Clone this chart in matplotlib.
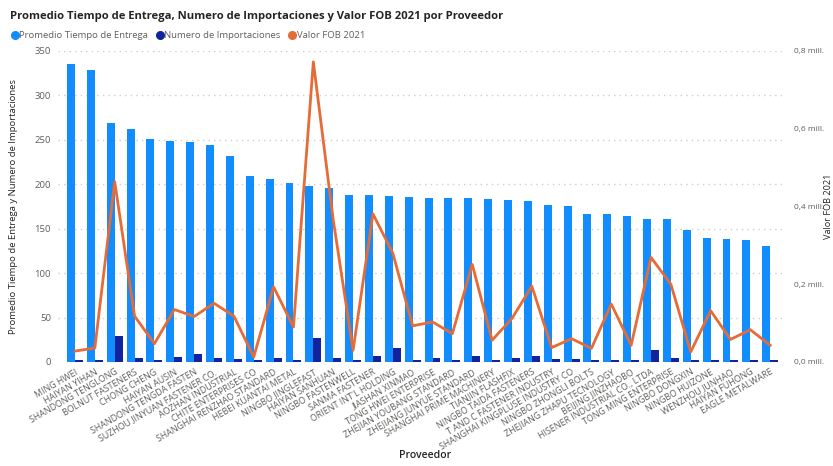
import matplotlib.pyplot as plt
import numpy as np

# datos
proveedores = ["MING HWEI", "HAIYAN YIHAN", "SHANDONG TENGLONG", "BOLNUT FASTENERS",
               "CHONG CHENG", "HAIYAN AUSIN", "SHANDONG TENGDA FASTEN",
               "SUZHOU JINYUAN FASTENER CO.", "AOZHAN INDUSTRIAL", "CHITE ENTERPRISES CO",
               "SHANGHAI RENZHAO STANDARD", "HEBEI KUANTAI METAL", "NINGBO JINGLEFAST",
               "HAIYAN SANHUAN", "NINGBO FASTENWELL", "SANMA FASTENER",
               "ORIENT INT'L HOLDING", "JIASHAN XINMAO", "TONG HWEI ENTERPRISE",
               "ZHEJIAN YOUBANG STANDARD", "ZHEJIANG JUNYUE STANDARD",
               "SHANGHAI PRIME MACHINERY", "TIANJIN FLASHFIX", "NINGBO TAIDA FASTENERS",
               "T AND C FASTENER INDUSTRY", "SHANGHAI KINGPLUSE INDUSTRY CO",
               "NINGBO ZHONGLI BOLTS", "ZHEJIANG ZHAPU TECNOLOGY", "BEIJING JINZHAOBO",
               "HISENER INDUSTRIAL CO., LTDA", "TONG MING ENTERPRISE", "NINGBO DONGXIN",
               "NINGBO HUIZONE", "WENZHOU JUNHAO", "HAIYAN FUHONG", "EAGLE METALWARE"]

tiempo_entrega = [335, 329, 269, 262, 251, 249, 248, 244, 232, 209, 206, 201, 198, 196,
                  188, 188, 187, 186, 185, 185, 185, 183, 182, 181, 177, 176, 167, 166,
                  164, 161, 161, 148, 140, 138, 137, 130]

num_importaciones = [2, 2, 29, 4, 2, 5.5, 8.5, 4, 3, 2, 5, 2, 26.5, 4, 2, 7, 16, 2.5,
                     5, 2, 6.5, 2.5, 5, 6.5, 3.5, 3.5, 2, 2.5, 2, 13, 5, 2, 2.5, 2, 2, 2]

valor_fob = [0.028, 0.036, 0.464, 0.118, 0.047, 0.135, 0.117, 0.151, 0.118, 0.013,
             0.193, 0.090, 0.772, 0.366, 0.030, 0.381, 0.280, 0.093, 0.103, 0.073,
             0.251, 0.056, 0.112, 0.195, 0.037, 0.060, 0.035, 0.149, 0.043, 0.269,
             0.200, 0.026, 0.132, 0.058, 0.083, 0.043]

plt.rcParams['font.family'] = ['Open Sans', 'DejaVu Sans']

azul = '#118DFF'
azul_osc = '#12239E'
naranja = '#E66C37'
gris = '#605E5C'

fig = plt.figure(figsize=(8.33, 4.66), dpi=100)
ax = fig.add_axes([0.0696, 0.2232, 0.873, 0.6674])
ax2 = ax.twinx()

x = np.arange(len(proveedores))
w = 0.4
ax.bar(x - w / 2, tiempo_entrega, w, color=azul, zorder=2)
ax.bar(x + w / 2, num_importaciones, w, color=azul_osc, zorder=2)
ax2.plot(x, valor_fob, color=naranja, linewidth=2, zorder=3)

ax.set_ylim(0, 350)
ax2.set_ylim(0, 0.8)
ax.set_xlim(-0.856, 35.755)
ax.set_yticks(np.arange(0, 351, 50))
ax2.set_yticks([0, 0.2, 0.4, 0.6, 0.8])
ax2.set_yticklabels(['0,0 mill.', '0,2 mill.', '0,4 mill.', '0,6 mill.', '0,8 mill.'])

ax.grid(axis='y', linestyle=(0, (1, 3)), color='#D0CECC', linewidth=1, zorder=0)
for a in (ax, ax2):
    for s in a.spines.values():
        s.set_visible(False)
    a.tick_params(length=0, colors=gris, labelsize=6.8)

ax.set_xticks(x)
ax.set_xticklabels(proveedores, rotation=30, ha='right', rotation_mode='anchor',
                   fontsize=6.4, color=gris)
ax.tick_params(axis='x', pad=4)
ax.tick_params(axis='y', pad=5)
ax2.tick_params(axis='y', pad=6, labelsize=6.0)

ax.set_ylabel('Promedio Tiempo de Entrega y Numero de Importaciones',
              fontsize=6.8, color='#252423', labelpad=12)
fig.text(0.994, 0.557, 'Valor FOB 2021', rotation=90, fontsize=6.6,
         color='#252423', ha='center', va='center')
fig.text(0.51, 0.01, 'Proveedor', fontsize=7.6, color='#252423',
         ha='center', va='bottom', fontweight='semibold')

fig.text(0.012, 0.965, 'Promedio Tiempo de Entrega, Numero de Importaciones y Valor FOB 2021 por Proveedor',
         fontsize=8.1, fontweight='bold', color='#252423', ha='left', va='center')

# leyenda
ley = [('Promedio Tiempo de Entrega', azul), ('Numero de Importaciones', azul_osc),
       ('Valor FOB 2021', naranja)]
handles = [plt.Line2D([], [], marker='o', linestyle='', color=c, markersize=5.5) for _, c in ley]
fig.legend(handles, [t for t, _ in ley], loc='upper left', bbox_to_anchor=(0.004, 0.948),
           ncol=3, frameon=False, fontsize=6.8, labelcolor=gris, handletextpad=0.0,
           columnspacing=0.7, handlelength=1.0, borderpad=0.2)

fig.savefig('out.png', dpi=100)
